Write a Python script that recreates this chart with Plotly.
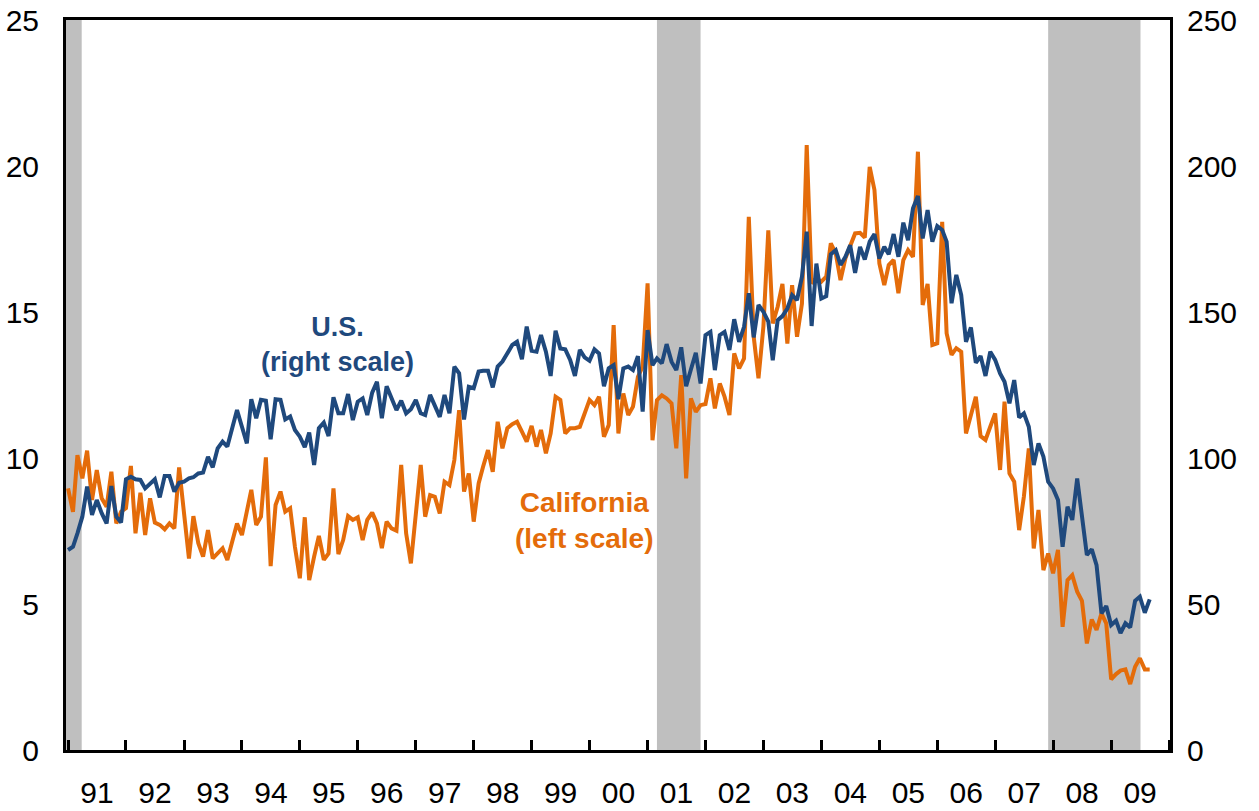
import pandas as pd
import plotly.graph_objects as go

# Monthly values, Jan 1991 - Sep 2009
start_month = "1991-01-01"

us_right_scale = [
    68.5, 69.6, 74.2, 79.9, 90.2, 80.5, 85.6, 81.1, 77.6, 90.4, 79.9, 77.9,
    92.7, 93.6, 92.7, 92.5, 89.6, 91.3, 92.7, 86.5, 93.8, 93.8, 88.5, 91.5,
    91.9, 93.0, 93.4, 94.7, 95.0, 100.4, 96.8, 103.3, 105.6, 103.9, 110.7, 116.4,
    110.7, 105.0, 120.1, 113.6, 119.9, 119.6, 106.4, 120.1, 119.9, 113.2, 114.2, 109.6,
    107.3, 103.7, 108.7, 97.6, 110.2, 112.1, 107.5, 120.8, 115.3, 115.3, 121.9, 113.0,
    119.3, 120.4, 114.7, 122.4, 126.1, 113.6, 124.6, 120.4, 116.4, 119.6, 115.3, 116.7,
    119.9, 115.3, 114.7, 121.6, 117.8, 114.1, 121.6, 115.3, 131.3, 129.0, 113.2, 124.4,
    123.9, 129.6, 129.9, 129.9, 124.2, 131.3, 133.0, 135.8, 138.7, 139.8, 133.8, 145.0,
    136.7, 136.4, 142.1, 136.4, 128.1, 143.6, 137.5, 137.2, 133.6, 128.1, 137.0, 134.5,
    133.3, 137.2, 135.8, 124.6, 130.7, 131.8, 120.1, 130.7, 131.3, 130.1, 134.9, 115.9,
    143.8, 131.8, 134.1, 132.4, 139.0, 133.0, 130.1, 137.9, 124.6, 130.3, 136.0, 125.5,
    142.1, 143.2, 130.1, 142.1, 143.2, 137.0, 147.5, 139.8, 144.9, 156.4, 141.3, 152.4,
    150.1, 146.7, 133.5, 147.2, 148.6, 151.2, 155.8, 154.1, 162.1, 177.5, 145.2, 166.6,
    154.6, 155.4, 169.8, 171.2, 166.1, 168.9, 172.9, 163.4, 172.3, 168.0, 174.1, 176.7,
    168.3, 172.3, 169.8, 176.7, 168.9, 180.6, 174.6, 185.5, 189.7,
    175.2, 184.9, 174.1, 179.4, 178.1, 174.1, 153.0, 162.7, 155.8, 139.8, 144.7, 132.6,
    134.9, 128.1, 136.4, 133.6, 129.0, 126.1, 118.7, 126.7, 113.9, 115.3, 110.7, 97.6,
    105.0, 100.5, 91.9, 89.6, 85.6, 69.6, 83.3, 78.8, 93.0, 79.9, 66.8, 68.7,
    63.3, 46.8, 49.3, 42.8, 44.3, 40.0, 43.4, 42.0, 51.1, 52.5, 47.0, 51.6,
]

california_left_scale = [
    8.96, 8.16, 10.10, 9.30, 10.25, 8.56, 9.59, 8.62, 8.33, 9.53, 7.76, 8.16,
    8.28, 9.73, 7.42, 8.81, 7.36, 8.62, 7.79, 7.71, 7.56, 7.76, 7.59, 9.68,
    8.11, 6.56, 8.01, 7.08, 6.62, 7.53, 6.56, 6.76, 6.91, 6.51, 7.13, 7.76,
    7.36, 8.11, 8.91, 7.71, 7.99, 10.02, 6.30, 8.39, 8.85, 8.16, 8.28, 6.96,
    5.88, 7.97, 5.82, 6.62, 7.33, 6.51, 6.73, 8.96, 6.71, 7.19, 8.01, 7.88,
    7.97, 7.19, 7.88, 8.13, 7.76, 6.91, 7.82, 7.59, 7.51, 9.76, 7.42, 6.39,
    8.10, 9.76, 7.99, 8.73, 8.67, 8.10, 9.19, 9.07, 9.93, 11.64, 8.85, 9.47,
    7.82, 9.13, 9.70, 10.27, 9.53, 11.24, 10.33, 11.02, 11.16, 11.24, 10.90, 10.56,
    11.10, 10.39, 10.96, 10.16, 10.84, 12.10, 11.99, 10.84, 11.02, 11.02, 11.07, 11.53,
    11.99, 11.81, 12.10, 10.73, 11.13, 14.55, 10.84, 12.21, 11.47, 11.76, 12.78, 13.13,
    15.98, 10.61, 11.98, 12.15, 12.04, 11.87, 10.33, 12.84, 9.30, 12.04, 11.58, 11.81,
    11.85, 12.73, 11.70, 12.55, 12.10, 11.47, 13.58, 13.07, 13.41, 18.26, 14.15, 12.73,
    14.50, 17.80, 14.61, 15.18, 15.96, 13.92, 15.92, 14.15, 15.29, 20.72, 15.98, 16.15,
    16.04, 16.21, 17.35, 17.01, 16.09, 16.84, 17.29, 17.69, 17.71, 17.55, 19.97, 19.18,
    16.66, 15.92, 16.61, 16.78, 15.64, 16.78, 17.12, 16.89, 20.49,
    15.24, 15.96, 13.87, 13.93, 18.09, 14.27, 13.53, 13.76, 13.64, 10.84, 11.53, 12.10,
    10.75, 10.62, 11.07, 11.53, 9.59, 11.93, 9.47, 9.19, 7.53, 8.68, 10.33, 6.90,
    8.22, 6.16, 6.73, 6.05, 6.85, 4.22, 5.82, 5.99, 5.42, 5.11, 3.65, 4.47,
    4.11, 4.68, 4.34, 2.42, 2.60, 2.72, 2.76, 2.26, 2.85, 3.14, 2.76, 2.76,
]

recession_starts = ["1990-07-01", "2001-03-01", "2007-12-01"]
recession_ends = ["1991-03-28", "2001-12-01", "2009-07-05"]

left_ticks = [0, 5, 10, 15, 20, 25]
right_ticks = [0, 50, 100, 150, 200, 250]

months = pd.date_range(start_month, periods=len(us_right_scale), freq="MS")

BLUE = "#1F497D"
ORANGE = "#E46C0A"
FONT = "Liberation Sans, Arial, sans-serif"

fig = go.Figure()
fig.add_trace(go.Scatter(x=months, y=us_right_scale, yaxis="y2", mode="lines",
                         line=dict(color=BLUE, width=4), name="U.S."))
fig.add_trace(go.Scatter(x=months, y=california_left_scale, yaxis="y", mode="lines",
                         line=dict(color=ORANGE, width=4), name="California"))

for s, e in zip(recession_starts, recession_ends):
    fig.add_shape(type="rect", xref="x", yref="paper", x0=s, x1=e, y0=0, y1=1,
                  fillcolor="#BFBFBF", line_width=0, layer="below")

fig.add_annotation(xref="paper", yref="paper", x=0.2455, y=0.5548,
                   xanchor="center", yanchor="middle",
                   text="<b>U.S.</b><br><b>(right scale)</b>", showarrow=False,
                   font=dict(family=FONT, size=27, color=BLUE), align="center")
fig.add_annotation(xref="paper", yref="paper", x=0.470, y=0.3137,
                   xanchor="center", yanchor="middle",
                   text="<b>California</b><br><b>(left scale)</b>", showarrow=False,
                   font=dict(family=FONT, size=28, color=ORANGE), align="center")

fig.update_layout(
    width=1259, height=811,
    margin=dict(l=66, r=89, t=20, b=61),
    paper_bgcolor="white", plot_bgcolor="white",
    showlegend=False,
    font=dict(family=FONT, size=30, color="black"),
    xaxis=dict(
        type="date", range=["1990-12-19", "2010-01-07"], automargin=False,
        tick0="1991-01-01", dtick="M12", tickformat="%y", ticklabelmode="period",
        ticks="inside", ticklen=10, tickwidth=2.5, tickcolor="black",
        showline=True, linecolor="black", linewidth=3, mirror=True,
        showgrid=False, zeroline=False, ticklabelstandoff=14,
        tickfont=dict(family=FONT, size=30, color="black"),
    ),
    yaxis=dict(
        range=[0, 25], tickvals=left_ticks, ticks="", automargin=False,
        showline=True, linecolor="black", linewidth=3,
        showgrid=False, zeroline=False, ticklabelstandoff=18,
        tickfont=dict(family=FONT, size=30, color="black"),
    ),
    yaxis2=dict(
        range=[0, 250], tickvals=right_ticks, ticks="", overlaying="y", side="right",
        showline=True, linecolor="black", linewidth=3, automargin=False,
        showgrid=False, zeroline=False, ticklabelstandoff=8,
        tickfont=dict(family=FONT, size=30, color="black"),
    ),
)

fig.write_html("out.html",
               config={"displayModeBar": False},
               post_script="document.body.style.margin='0';document.body.style.overflow='hidden';")
